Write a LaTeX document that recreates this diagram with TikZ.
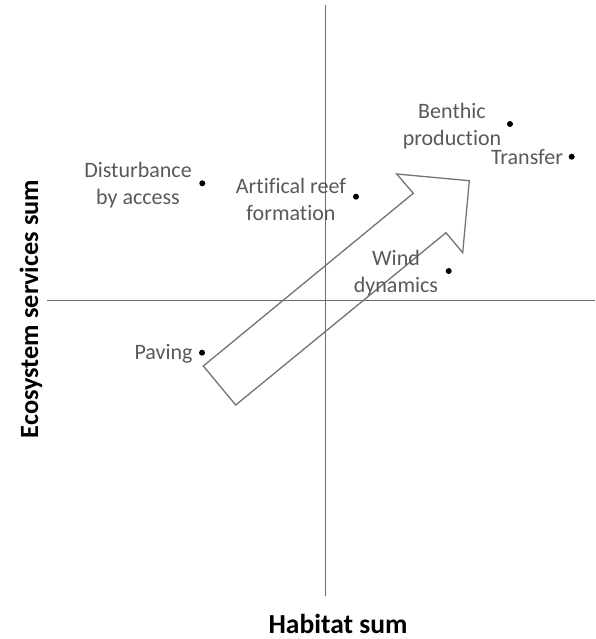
\documentclass[tikz,border=0pt]{standalone}
\usepackage{fontspec}
\setmainfont{Carlito}[Ligatures=NoCommon]
\begin{document}
\begin{tikzpicture}[x=1pt,y=-1pt,
  axisline/.style={draw=gray!85!black, line width=0.9pt},
  bigarrow/.style={draw=gray!90!black, line width=1.3pt, line join=miter},
  dot/.style={circle, fill=black, inner sep=0pt, minimum size=6pt},
  lbl/.style={text=black!65, align=center, inner sep=0pt, font=\fontsize{22}{27}\selectfont},
  axtitle/.style={text=black, inner sep=0pt, font=\bfseries\fontsize{27.5}{32}\selectfont}]
  \useasboundingbox (0,0) rectangle (595,639);

  % quadrant axes
  \coordinate (ytop) at (325,5);
  \coordinate (ybot) at (325,596);
  \coordinate (xleft) at (47,300);
  \coordinate (xright) at (595,300);
  \draw[axisline] (ytop) -- (ybot);
  \draw[axisline] (xleft) -- (xright);

  % trend arrow
  \draw[bigarrow] (203.3,366) -- (413.3,193.3) -- (396.7,174) -- (469.3,180.7)
    -- (462.7,252.7) -- (446,232.7) -- (235.7,405) -- cycle;

  % data points
  \node[dot] (pDist) at (202.3,183.3) {};
  \node[dot] (pReef) at (356,196.7) {};
  \node[dot] (pPave) at (202,352.7) {};
  \node[dot] (pWind) at (448.7,271) {};
  \node[dot] (pBent) at (510,124) {};
  \node[dot] (pTran) at (571.7,156.7) {};

  % point labels
  \node[lbl] (tDist) at (138,185.5) {Disturbance\\by access};
  \node[lbl] (tReef) at (291,199) {Artifical reef\\formation};
  \node[lbl] (tWind) at (396,273) {Wind\\dynamics};
  \node[lbl] (tBent) at (452,126) {Benthic\\production};
  \node[lbl] (tTran) at (527,157.5) {Transfer};
  \node[lbl] (tPave) at (163.5,353.5) {Paving};

  % axis titles
  \node[axtitle] (hab) at (338,624) {Habitat sum};
  \node[axtitle, font=\bfseries\fontsize{26.3}{31}\selectfont, rotate=90] (eco) at (31,309) {Ecosystem services sum};
\end{tikzpicture}
\end{document}
